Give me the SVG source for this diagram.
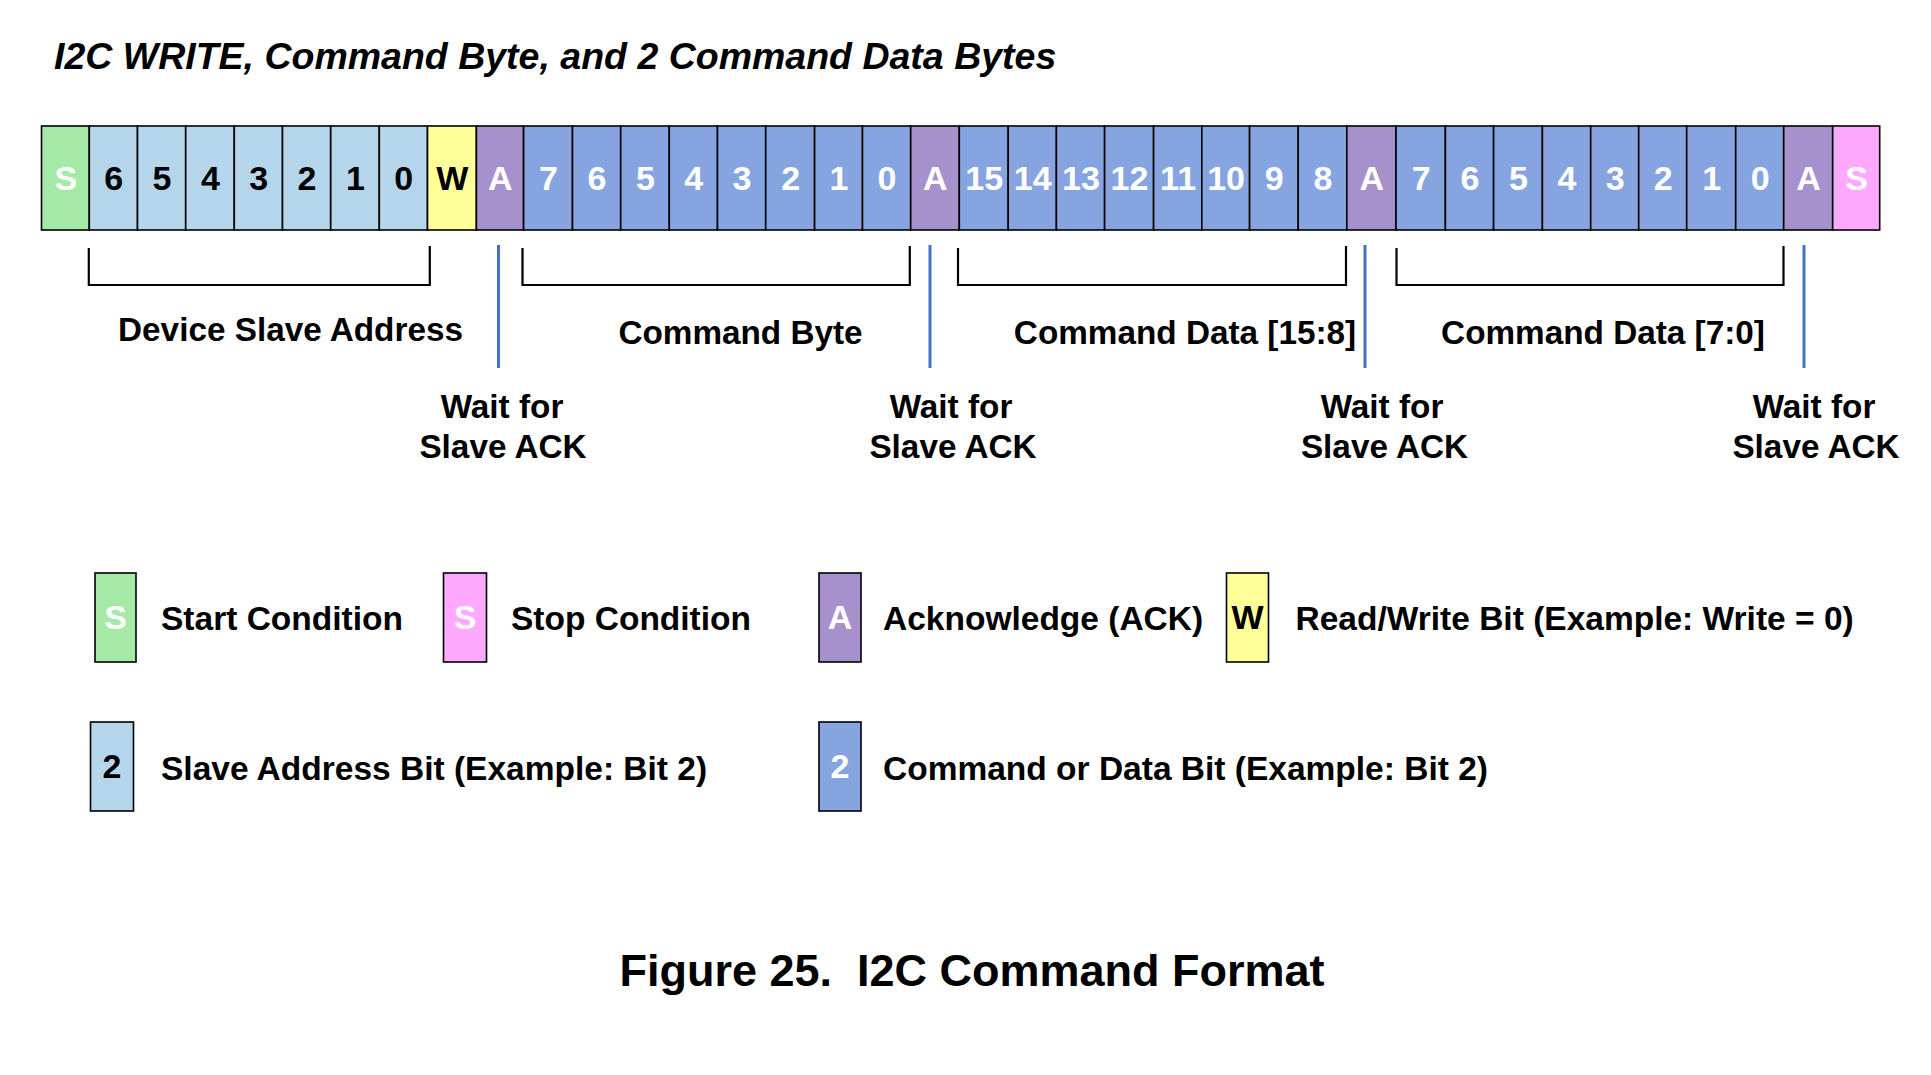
<svg xmlns="http://www.w3.org/2000/svg" width="1931" height="1075" viewBox="0 0 1931 1075">
<style>
text{font-family:"Liberation Sans",Arial,sans-serif;font-weight:bold}
.c{stroke:#000;stroke-width:1.6}
.g{fill:#a4e9a6}.lb{fill:#b4d5ea}.y{fill:#ffff99}.p{fill:#a791cd}.b{fill:#86a5e0}.k{fill:#ffa8ff}
.t{font-size:34px;text-anchor:middle}
.w{fill:#fff}.d{fill:#000}
.lbl{font-size:33.3px;text-anchor:middle}
.leg{font-size:33.5px}
.br{fill:none;stroke:#000;stroke-width:2.2}
.ack{stroke:#4472c4;stroke-width:3}
</style>
<rect width="1931" height="1075" fill="#fff"/>
<text id="title" x="54" y="69" font-size="37.5" font-style="italic">I2C WRITE, Command Byte, and 2 Command Data Bytes</text>
<g id="bar">
<g id="c0"><rect class="c g" x="41.5" y="126" width="47.8" height="104"/><text class="t w" x="65.8" y="189.5">S</text></g>
<g id="c1"><rect class="c lb" x="89.3" y="126" width="48.2" height="104"/><text class="t d" x="113.8" y="189.5">6</text></g>
<g id="c2"><rect class="c lb" x="137.5" y="126" width="48.2" height="104"/><text class="t d" x="162" y="189.5">5</text></g>
<g id="c3"><rect class="c lb" x="185.7" y="126" width="48.6" height="104"/><text class="t d" x="210.4" y="189.5">4</text></g>
<g id="c4"><rect class="c lb" x="234.3" y="126" width="48.2" height="104"/><text class="t d" x="258.8" y="189.5">3</text></g>
<g id="c5"><rect class="c lb" x="282.5" y="126" width="48.2" height="104"/><text class="t d" x="307" y="189.5">2</text></g>
<g id="c6"><rect class="c lb" x="330.7" y="126" width="48.6" height="104"/><text class="t d" x="355.4" y="189.5">1</text></g>
<g id="c7"><rect class="c lb" x="379.3" y="126" width="48.2" height="104"/><text class="t d" x="403.8" y="189.5">0</text></g>
<g id="c8"><rect class="c y" x="427.5" y="126" width="48.9" height="104"/><text class="t d" x="452.4" y="189.5">W</text></g>
<g id="c9"><rect class="c p" x="476.4" y="126" width="47.2" height="104"/><text class="t w" x="500.4" y="189.5">A</text></g>
<g id="c10"><rect class="c b" x="523.6" y="126" width="48.9" height="104"/><text class="t w" x="548.4" y="189.5">7</text></g>
<g id="c11"><rect class="c b" x="572.5" y="126" width="48.2" height="104"/><text class="t w" x="597" y="189.5">6</text></g>
<g id="c12"><rect class="c b" x="620.7" y="126" width="48.6" height="104"/><text class="t w" x="645.4" y="189.5">5</text></g>
<g id="c13"><rect class="c b" x="669.3" y="126" width="48.2" height="104"/><text class="t w" x="693.8" y="189.5">4</text></g>
<g id="c14"><rect class="c b" x="717.5" y="126" width="48.2" height="104"/><text class="t w" x="742" y="189.5">3</text></g>
<g id="c15"><rect class="c b" x="765.7" y="126" width="48.9" height="104"/><text class="t w" x="790.6" y="189.5">2</text></g>
<g id="c16"><rect class="c b" x="814.6" y="126" width="47.9" height="104"/><text class="t w" x="839" y="189.5">1</text></g>
<g id="c17"><rect class="c b" x="862.5" y="126" width="48.2" height="104"/><text class="t w" x="887" y="189.5">0</text></g>
<g id="c18"><rect class="c p" x="910.7" y="126" width="48.6" height="104"/><text class="t w" x="935.4" y="189.5">A</text></g>
<g id="c19"><rect class="c b" x="959.3" y="126" width="48.9" height="104"/><text class="t w" x="984.2" y="189.5">15</text></g>
<g id="c20"><rect class="c b" x="1008.2" y="126" width="48.2" height="104"/><text class="t w" x="1032.7" y="189.5">14</text></g>
<g id="c21"><rect class="c b" x="1056.4" y="126" width="48.2" height="104"/><text class="t w" x="1080.9" y="189.5">13</text></g>
<g id="c22"><rect class="c b" x="1104.6" y="126" width="49" height="104"/><text class="t w" x="1129.5" y="189.5">12</text></g>
<g id="c23"><rect class="c b" x="1153.6" y="126" width="48.2" height="104"/><text class="t w" x="1178.1" y="189.5">11</text></g>
<g id="c24"><rect class="c b" x="1201.8" y="126" width="47.8" height="104"/><text class="t w" x="1226.1" y="189.5">10</text></g>
<g id="c25"><rect class="c b" x="1249.6" y="126" width="48.6" height="104"/><text class="t w" x="1274.3" y="189.5">9</text></g>
<g id="c26"><rect class="c b" x="1298.2" y="126" width="48.6" height="104"/><text class="t w" x="1322.9" y="189.5">8</text></g>
<g id="c27"><rect class="c p" x="1346.8" y="126" width="49.2" height="104"/><text class="t w" x="1371.8" y="189.5">A</text></g>
<g id="c28"><rect class="c b" x="1396" y="126" width="49.4" height="104"/><text class="t w" x="1421.1" y="189.5">7</text></g>
<g id="c29"><rect class="c b" x="1445.4" y="126" width="48.2" height="104"/><text class="t w" x="1469.9" y="189.5">6</text></g>
<g id="c30"><rect class="c b" x="1493.6" y="126" width="48.8" height="104"/><text class="t w" x="1518.4" y="189.5">5</text></g>
<g id="c31"><rect class="c b" x="1542.4" y="126" width="48.3" height="104"/><text class="t w" x="1566.9" y="189.5">4</text></g>
<g id="c32"><rect class="c b" x="1590.7" y="126" width="48" height="104"/><text class="t w" x="1615.1" y="189.5">3</text></g>
<g id="c33"><rect class="c b" x="1638.7" y="126" width="48" height="104"/><text class="t w" x="1663.1" y="189.5">2</text></g>
<g id="c34"><rect class="c b" x="1686.7" y="126" width="49" height="104"/><text class="t w" x="1711.6" y="189.5">1</text></g>
<g id="c35"><rect class="c b" x="1735.7" y="126" width="48" height="104"/><text class="t w" x="1760.1" y="189.5">0</text></g>
<g id="c36"><rect class="c p" x="1783.7" y="126" width="49" height="104"/><text class="t w" x="1808.6" y="189.5">A</text></g>
<g id="c37"><rect class="c k" x="1832.7" y="126" width="47" height="104"/><text class="t w" x="1856.6" y="189.5">S</text></g>
</g>
<g id="connectors">
<path class="br" d="M88.8 248 V285 H429.8 V246"/>
<path class="br" d="M522.5 248 V285 H909.8 V246"/>
<path class="br" d="M958 248 V285 H1346 V246"/>
<path class="br" d="M1396.5 248 V285 H1783.5 V246"/>
<line class="ack" x1="498.5" y1="245" x2="498.5" y2="368"/>
<line class="ack" x1="930" y1="245" x2="930" y2="368"/>
<line class="ack" x1="1365" y1="245" x2="1365" y2="368"/>
<line class="ack" x1="1804" y1="245" x2="1804" y2="368"/>
</g>
<g id="labels">
<text class="lbl" x="290.5" y="341">Device Slave Address</text>
<text class="lbl" x="740.5" y="344">Command Byte</text>
<text class="lbl" x="1185" y="344">Command Data [15:8]</text>
<text class="lbl" x="1603" y="344">Command Data [7:0]</text>
<g id="ack1"><text class="lbl" x="502" y="418">Wait for</text><text class="lbl" x="503" y="458">Slave ACK</text></g>
<g id="ack2"><text class="lbl" x="951" y="418">Wait for</text><text class="lbl" x="953" y="458">Slave ACK</text></g>
<g id="ack3"><text class="lbl" x="1382" y="418">Wait for</text><text class="lbl" x="1384.5" y="458">Slave ACK</text></g>
<g id="ack4"><text class="lbl" x="1814" y="418">Wait for</text><text class="lbl" x="1816" y="458">Slave ACK</text></g>
</g>
<g id="legend">
<g id="leg-start"><rect class="c g" x="95" y="573" width="41" height="89"/><text class="t w" x="115.5" y="629">S</text><text class="leg" x="161" y="630">Start Condition</text></g>
<g id="leg-stop"><rect class="c k" x="443.5" y="573" width="43" height="89"/><text class="t w" x="465" y="629">S</text><text class="leg" x="511" y="630">Stop Condition</text></g>
<g id="leg-ack"><rect class="c p" x="819" y="573" width="42" height="89"/><text class="t w" x="840" y="629">A</text><text class="leg" x="883" y="630">Acknowledge (ACK)</text></g>
<g id="leg-rw"><rect class="c y" x="1226.5" y="573" width="42" height="89"/><text class="t d" x="1247.5" y="629">W</text><text class="leg" x="1295.5" y="630">Read/Write Bit (Example: Write = 0)</text></g>
<g id="leg-addr"><rect class="c lb" x="90.5" y="722" width="43" height="89"/><text class="t d" x="112" y="778">2</text><text class="leg" x="161" y="780">Slave Address Bit (Example: Bit 2)</text></g>
<g id="leg-data"><rect class="c b" x="819" y="722" width="42" height="89"/><text class="t w" x="840" y="778">2</text><text class="leg" x="883" y="780">Command or Data Bit (Example: Bit 2)</text></g>
</g>
<text id="caption" x="972" y="986" font-size="45" text-anchor="middle" xml:space="preserve">Figure 25.  I2C Command Format</text>
</svg>
